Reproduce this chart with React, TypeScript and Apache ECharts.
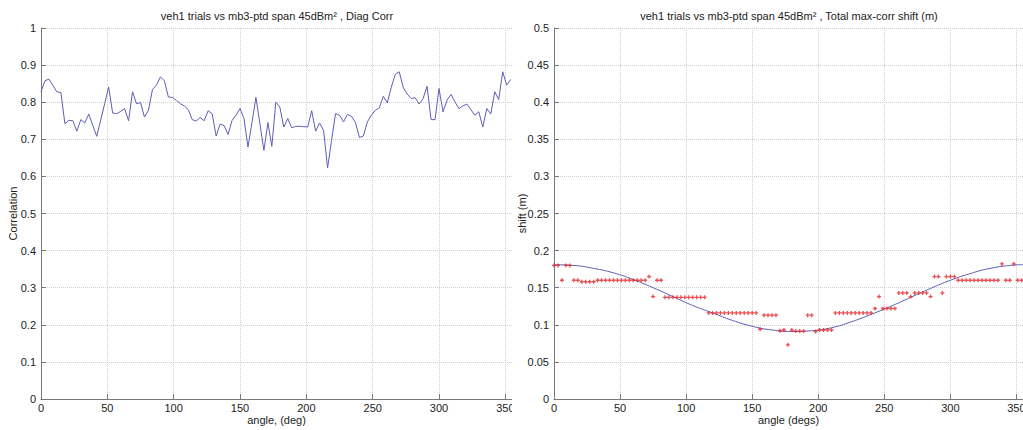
import React, { useEffect, useRef } from "react";
import * as echarts from "echarts";

const ANGLES = [
  0, 3, 6, 9, 12, 15, 18, 21, 24, 27, 30, 33, 36, 39, 42, 45, 48, 51, 54, 57,
  60, 63, 66, 69, 72, 75, 78, 81, 84, 87, 90, 93, 96, 99, 102, 105, 108, 111, 114, 117,
  120, 123, 126, 129, 132, 135, 138, 141, 144, 147, 150, 153, 156, 159, 162, 165, 168, 171, 174, 177,
  180, 183, 186, 189, 192, 195, 198, 201, 204, 207, 210, 213, 216, 219, 222, 225, 228, 231, 234, 237,
  240, 243, 246, 249, 252, 255, 258, 261, 264, 267, 270, 273, 276, 279, 282, 285, 288, 291, 294, 297,
  300, 303, 306, 309, 312, 315, 318, 321, 324, 327, 330, 333, 336, 339, 342, 345, 348, 351, 354,
];

const CORRELATION = [
  0.828, 0.858, 0.862, 0.845, 0.828, 0.826, 0.742, 0.751, 0.75, 0.722, 0.753, 0.744, 0.768, 0.738, 0.708, 0.752, 0.796, 0.841, 0.771, 0.769,
  0.775, 0.783, 0.75, 0.828, 0.796, 0.799, 0.76, 0.778, 0.834, 0.846, 0.868, 0.858, 0.814, 0.813, 0.805, 0.796, 0.79, 0.78, 0.753, 0.749,
  0.759, 0.75, 0.777, 0.769, 0.709, 0.741, 0.737, 0.713, 0.751, 0.765, 0.783, 0.756, 0.679, 0.745, 0.813, 0.742, 0.67, 0.745, 0.681, 0.8,
  0.787, 0.733, 0.756, 0.731, 0.735, 0.735, 0.734, 0.733, 0.777, 0.722, 0.744, 0.724, 0.623, 0.697, 0.769, 0.765, 0.747, 0.767, 0.762, 0.745,
  0.705, 0.709, 0.747, 0.765, 0.778, 0.785, 0.816, 0.798, 0.84, 0.875, 0.882, 0.84, 0.822, 0.81, 0.812, 0.795, 0.81, 0.843, 0.753, 0.753,
  0.837, 0.774, 0.805, 0.821, 0.801, 0.783, 0.79, 0.795, 0.78, 0.765, 0.774, 0.733, 0.783, 0.768, 0.828, 0.807, 0.882, 0.846, 0.861,
];

const SHIFT_MEASURED = [
  0.18, 0.18, 0.16, 0.18, 0.18, 0.16, 0.16, 0.158, 0.158, 0.158, 0.158, 0.16, 0.16, 0.16, 0.16, 0.16, 0.16, 0.16, 0.16, 0.16,
  0.16, 0.16, 0.16, 0.16, 0.165, 0.138, 0.16, 0.16, 0.137, 0.137, 0.137, 0.137, 0.137, 0.137, 0.137, 0.137, 0.137, 0.137, 0.137, 0.116,
  0.116, 0.116, 0.116, 0.116, 0.116, 0.116, 0.116, 0.116, 0.116, 0.116, 0.116, 0.116, 0.094, 0.113, 0.113, 0.113, 0.113, 0.092, 0.093, 0.073,
  0.093, 0.0915, 0.0915, 0.0915, 0.113, 0.113, 0.091, 0.093, 0.093, 0.093, 0.093, 0.116, 0.116, 0.116, 0.116, 0.116, 0.116, 0.116, 0.116, 0.116,
  0.116, 0.122, 0.138, 0.122, 0.122, 0.122, 0.122, 0.143, 0.143, 0.143, 0.138, 0.143, 0.143, 0.143, 0.143, 0.138, 0.165, 0.165, 0.143, 0.165,
  0.165, 0.165, 0.16, 0.16, 0.16, 0.16, 0.16, 0.16, 0.16, 0.16, 0.16, 0.16, 0.16, 0.182, 0.16, 0.16, 0.182, 0.16, 0.16,
];

const FIT_ANGLES = [0, 15, 30, 45, 60, 75, 90, 105, 120, 135, 150, 165, 180, 195, 210, 225, 240, 255, 270, 285, 300, 315, 330, 345, 355];
const SHIFT_FIT = [0.181, 0.18, 0.176, 0.17, 0.161, 0.15, 0.138, 0.126, 0.116, 0.106, 0.098, 0.093, 0.091, 0.092, 0.096, 0.104, 0.114, 0.125, 0.137, 0.149, 0.16, 0.169, 0.176, 0.18, 0.181];

const LEFT_TITLE = "veh1 trials vs mb3-ptd span 45dBm² , Diag Corr";
const RIGHT_TITLE = "veh1 trials vs mb3-ptd span 45dBm² , Total max-corr shift (m)";
const LEFT_XNAME = "angle, (deg)";
const RIGHT_XNAME = "angle (degs)";
const LEFT_YNAME = "Correlation";
const RIGHT_YNAME = "shift (m)";

const FONT = "'Liberation Sans', Arial, Helvetica, sans-serif";
const TEXT = "#222";
const AXIS = "#777";
const GRIDC = "#cfcfcf";
const LINEC = "#5e5eb8";
const DOTC = "#e4262a";

const fmt = (v: number) => String(+v.toFixed(2));

function xAxis(name: string) {
  return {
    type: "value",
    min: 0,
    max: 355,
    interval: 50,
    name,
    nameLocation: "middle",
    nameGap: 15,
    nameMoveOverlap: false,
    nameTextStyle: { color: TEXT, fontSize: 11, fontFamily: FONT },
    axisLine: { show: true, lineStyle: { color: AXIS, width: 1 } },
    axisTick: { show: true, inside: true, length: 5, lineStyle: { color: AXIS } },
    axisLabel: { color: TEXT, fontSize: 11, fontFamily: FONT, margin: 3, showMaxLabel: false, formatter: (v: number) => (v % 50 === 0 ? String(v) : "") },
    splitLine: { show: true, lineStyle: { color: GRIDC, type: "dotted", width: 1 } },
  };
}

function yAxis(name: string, max: number, interval: number, gap: number) {
  return {
    type: "value",
    min: 0,
    max,
    interval,
    name,
    nameLocation: "middle",
    nameGap: gap,
    nameMoveOverlap: false,
    nameTextStyle: { color: TEXT, fontSize: 11, fontFamily: FONT },
    axisLine: { show: true, lineStyle: { color: AXIS, width: 1 } },
    axisTick: { show: true, inside: true, length: 5, lineStyle: { color: AXIS } },
    axisLabel: { color: TEXT, fontSize: 11, fontFamily: FONT, margin: 5, formatter: fmt },
    splitLine: { show: true, lineStyle: { color: GRIDC, type: "dotted", width: 1 } },
  };
}

function titleGraphic(text: string, cx: number) {
  return [
    {
      type: "text",
      x: cx,
      y: 16,
      style: { text, fill: TEXT, font: `11px ${FONT}`, textAlign: "center", textVerticalAlign: "middle" },
    },
  ];
}

export default function App() {
  const leftRef = useRef<HTMLDivElement>(null);
  const rightRef = useRef<HTMLDivElement>(null);

  useEffect(() => {
    const left = echarts.init(leftRef.current!, null, { renderer: "svg" });
    const right = echarts.init(rightRef.current!, null, { renderer: "svg" });

    left.setOption({
      animation: false,
      backgroundColor: "#fff",
      grid: { left: 41, top: 28, bottom: 31, width: 471, containLabel: false, outerBoundsMode: "none" },
      graphic: titleGraphic(LEFT_TITLE, 277),
      xAxis: xAxis(LEFT_XNAME),
      yAxis: yAxis(LEFT_YNAME, 1, 0.1, 23),
      series: [
        {
          type: "line",
          data: ANGLES.map((a, i) => [a, CORRELATION[i]]),
          showSymbol: false,
          lineStyle: { color: LINEC, width: 1 },
          itemStyle: { color: LINEC },
        },
      ],
    });

    right.setOption({
      animation: false,
      backgroundColor: "#fff",
      grid: { left: 42, top: 28, bottom: 31, width: 469, containLabel: false, outerBoundsMode: "none" },
      graphic: titleGraphic(RIGHT_TITLE, 277),
      xAxis: xAxis(RIGHT_XNAME),
      yAxis: yAxis(RIGHT_YNAME, 0.5, 0.05, 27),
      series: [
        {
          type: "line",
          data: FIT_ANGLES.map((a, i) => [a, SHIFT_FIT[i]]),
          smooth: true,
          showSymbol: false,
          lineStyle: { color: LINEC, width: 1 },
          itemStyle: { color: LINEC },
          z: 2,
        },
        {
          type: "scatter",
          data: ANGLES.map((a, i) => [a, SHIFT_MEASURED[i]]),
          symbol: "path://M1,0h1v1h1v1h-1v1h-1v-1h-1v-1h1z",
          symbolSize: 4,
          itemStyle: { color: DOTC },
          z: 3,
        },
      ],
    });

    return () => {
      left.dispose();
      right.dispose();
    };
  }, []);

  return (
    <div style={{ position: "fixed", left: 0, top: 0, width: 1023, height: 430, background: "#fff" }}>
      <div style={{ position: "absolute", left: 0, top: 0, width: 512, height: 430, overflow: "hidden" }}>
        <div ref={leftRef} style={{ width: 600, height: 430 }} />
      </div>
      <div style={{ position: "absolute", left: 512, top: 0, width: 511, height: 430, overflow: "hidden" }}>
        <div ref={rightRef} style={{ width: 600, height: 430 }} />
      </div>
    </div>
  );
}
